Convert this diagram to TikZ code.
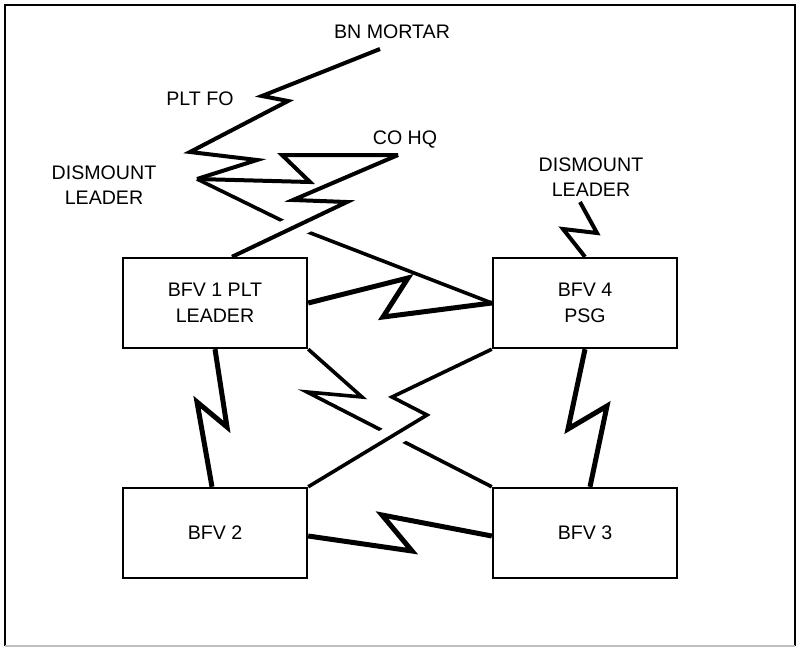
\documentclass[tikz,border=0pt]{standalone}
\usepackage{fontspec}
\setmainfont{Liberation Sans}
\usepackage{tikz}

\begin{document}
\begin{tikzpicture}[x=0.5pt, y=-0.5pt, font=\fontsize{9.8pt}{12.8pt}\selectfont,
  box/.style={draw, line width=1.2pt, minimum width=92pt, minimum height=45pt, inner sep=0pt, align=center},
  lbl/.style={align=center, inner sep=0pt},
  radio/.style={line width=2pt},
  link/.style={line width=1.8pt},
  heavy/.style={line width=2.5pt},
  halo/.style={line width=11pt, white}]
\useasboundingbox (0,0) rectangle (798,648);
% -- frame --
\draw[line width=1.2pt] (5,646) -- (5,5) -- (795,5) -- (795,646);
\draw[line width=0.8pt, gray!50] (5,646) -- (795,646);
% -- vehicles --
\node[box] (bfv1) at (215,303) {BFV 1 PLT\\LEADER};
\node[box] (bfv4) at (585,303) {BFV 4\\PSG};
\node[box] (bfv2) at (215,533) {BFV 2};
\node[box] (bfv3) at (585,533) {BFV 3};
% -- stations --
\node[lbl] (bnm) at (392,32) {BN MORTAR};
\node[lbl] (pltfo) at (200,99) {PLT FO};
\node[lbl] (cohq) at (405,140) {CO HQ};
\node[lbl] (dml) at (104,185) {DISMOUNT\\LEADER};
\node[lbl] (dmr) at (591,177) {DISMOUNT\\LEADER};
\coordinate (bnmEnd) at (380,49);
\coordinate (cohqEnd) at (398,155);
\coordinate (dmrEnd) at (580,202);
\coordinate (fork) at (197,179);
% -- upper nets --
\draw[radio] (bnmEnd) -- (262,96) -- (288,101) -- (190,152) -- (257,160) -- (fork);
\draw[radio] (fork) -- (310,182) -- (282,155) -- (cohqEnd);
\draw[link] (fork) -- (295,227) -- (bfv4.west);
\coordinate (k3) at (347,202);
\draw[halo, shorten <=15pt, shorten >=20pt] (k3) -- ([xshift=8.5pt]bfv1.north);
\draw[radio] (cohqEnd) -- (293,200) -- (k3) -- ([xshift=8.5pt]bfv1.north);
\draw[radio] (dmrEnd) -- (597,233) -- (563,229) -- (bfv4.north);
% -- platoon net --
\draw[heavy] (bfv1.east) -- (408,278) -- (383,317) -- (bfv4.west);
\draw[heavy] (bfv1.south) -- (227,427) -- (197,402) -- ([xshift=-1.5pt]bfv2.north);
\draw[heavy] (bfv4.south) -- (568,429) -- (607,406) -- ([xshift=2.5pt]bfv3.north);
\draw[heavy] ([yshift=-1.5pt]bfv2.east) -- (412,551) -- (382,515) -- ([yshift=-1.5pt]bfv3.west);
\draw[link] (bfv1.south east) -- (362,397) -- (307,392) -- (bfv3.north west);
\coordinate (k9) at (427,415);
\draw[halo, shorten <=10pt, shorten >=25pt] (k9) -- (bfv2.north east);
\draw[link] (bfv4.south west) -- (392,397) -- (k9) -- (bfv2.north east);
\end{tikzpicture}
\end{document}
